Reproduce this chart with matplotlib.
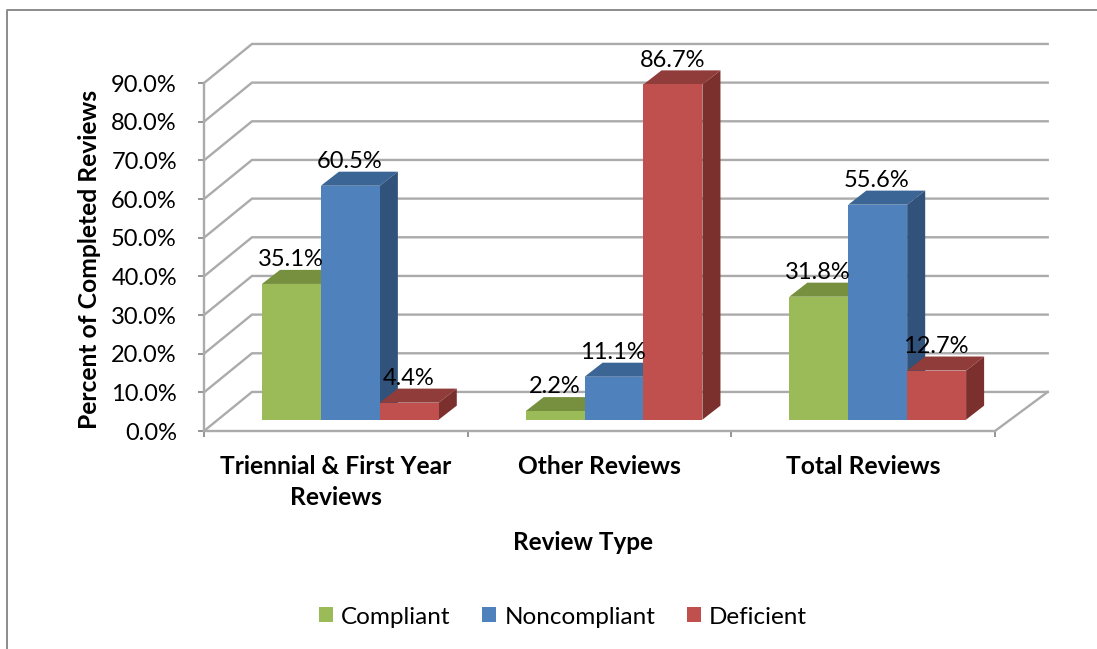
import matplotlib
matplotlib.use("Agg")
import matplotlib.pyplot as plt
from matplotlib.lines import Line2D
from matplotlib.patches import Patch, Polygon

plt.rcParams["font.family"] = ["Lato", "DejaVu Sans"]

categories = ["Triennial & First Year\nReviews", "Other Reviews", "Total Reviews"]
series_names = ["Compliant", "Noncompliant", "Deficient"]
compliant = [35.1, 2.2, 31.8]
noncompliant = [60.5, 11.1, 55.6]
deficient = [4.4, 86.7, 12.7]
y_ticks = [0, 10, 20, 30, 40, 50, 60, 70, 80, 90]

front_colors = ["#9BBB59", "#4F81BD", "#C0504D"]
top_colors = ["#76903F", "#3A6594", "#903C3A"]
side_colors = ["#5F7530", "#31527B", "#7B302E"]
grid_color = "#ABABAB"

W, H = 1097, 649
BAR_W = 0.2235
# depth of the chart floor in data units, d=0 front, d=1 back wall
DX = 0.19
DY = 10.1
# the back wall sits a bit wider than the front, slight perspective
BACK_L = 0.182
BACK_R = 0.2
BAR_D0 = 0.29
BAR_D1 = 0.65


def proj(x, y, d):
    return (x + DX * d, y + DY * d)


def draw_bar(ax, x0, x1, val, i, z):
    d0, d1 = BAR_D0, BAR_D1
    top = [proj(x0, val, d0), proj(x1, val, d0), proj(x1, val, d1), proj(x0, val, d1)]
    side = [proj(x1, 0, d0), proj(x1, 0, d1), proj(x1, val, d1), proj(x1, val, d0)]
    front = [proj(x0, 0, d0), proj(x1, 0, d0), proj(x1, val, d0), proj(x0, val, d0)]
    ax.add_patch(Polygon(top, fc=top_colors[i], ec="none", zorder=z, clip_on=False))
    ax.add_patch(Polygon(side, fc=side_colors[i], ec="none", zorder=z, clip_on=False))
    ax.add_patch(Polygon(front, fc=front_colors[i], ec="none", zorder=z, clip_on=False))


fig = plt.figure(figsize=(W / 100, H / 100), dpi=100)
ax = fig.add_axes([204 / W, 1 - 431 / H, (995 - 204) / W, (431 - 83) / H])
ax.set_xlim(0, 3)
ax.set_ylim(0, 90)
ax.patch.set_visible(False)

# back wall + side wall gridlines
for t in y_ticks:
    xs = [0, BACK_L, 3 + BACK_R]
    ys = [t, t + DY, t + DY]
    ax.plot(xs, ys, color=grid_color, lw=1.7, zorder=1, clip_on=False, solid_joinstyle="miter")
# right edge of the floor
ax.plot([3, 3 + BACK_R], [0, DY], color=grid_color, lw=1.7, zorder=1, clip_on=False)

z = 3
all_vals = [compliant, noncompliant, deficient]
for g in range(len(categories)):
    left = g + 0.5 - 1.5 * BAR_W
    for i, vals in enumerate(all_vals):
        draw_bar(ax, left + i * BAR_W, left + (i + 1) * BAR_W, vals[g], i, z)
        z += 1

for g in range(len(categories)):
    left = g + 0.5 - 1.5 * BAR_W
    for i, vals in enumerate(all_vals):
        cx, cy = proj(left + (i + 0.5) * BAR_W, vals[g], BAR_D0)
        ax.annotate(f"{vals[g]:.1f}%", (cx, cy), xytext=(-0.5, 17.5), textcoords="offset points",
                    ha="center", va="center", fontsize=17, color="black", zorder=50,
                    annotation_clip=False)

for s in ["top", "right"]:
    ax.spines[s].set_visible(False)
for s in ["left", "bottom"]:
    ax.spines[s].set_color(grid_color)
    ax.spines[s].set_linewidth(1.7)
    ax.spines[s].set_zorder(2)

ax.set_yticks(y_ticks)
ax.set_yticklabels([f"{t:.1f}%" for t in y_ticks], fontsize=17)
ax.tick_params(axis="y", length=4.5, width=1.3, color="#8C8C8C", pad=15)

ax.set_xticks([0, 1, 2, 3])
ax.set_xticklabels([])
ax.set_xticks([0.5, 1.5, 2.5], minor=True)
ax.set_xticklabels(categories, minor=True, fontsize=17.7, fontweight="bold", linespacing=1.42, va="top")
ax.tick_params(axis="x", which="major", length=4.5, width=1.3, color="#8C8C8C")
ax.tick_params(axis="x", which="minor", length=0, pad=17)

ax.set_xlabel("Review Type", fontsize=17.5, fontweight="bold")
ax.xaxis.set_label_coords((583 - 204) / 791, -(542 - 431) / 348)
ax.xaxis.label.set_va("center")
ax.set_ylabel("Percent of Completed Reviews", fontsize=17.7, fontweight="bold")
ax.yaxis.set_label_coords((90 - 204) / 791, (431 - 259) / 348)
ax.yaxis.label.set_va("center")

handles = [Patch(fc=c, ec="none", label=n) for c, n in zip(front_colors, series_names)]
fig.legend(handles=handles, loc="center", bbox_to_anchor=(563 / W, 1 - 617 / H), ncol=3, frameon=False,
           fontsize=17.5, handlelength=0.58, handleheight=0.58, handletextpad=0.33, columnspacing=1.3)

# outer chart frame, runs off the right and bottom of the picture
fig.add_artist(Line2D([6.5 / W, 6.5 / W, 1], [0, 1 - 9.5 / H, 1 - 9.5 / H], color="#8C8C8C", lw=1.4))

fig.savefig("out.png", dpi=100)
